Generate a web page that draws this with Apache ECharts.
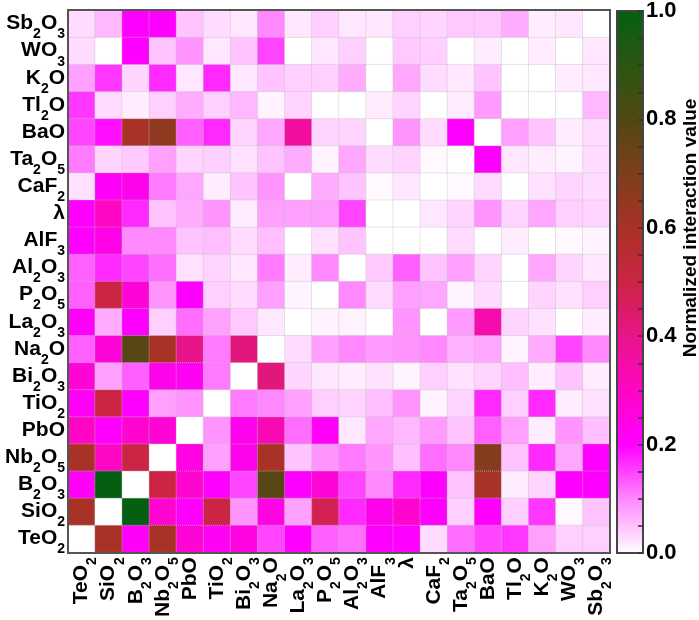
<!DOCTYPE html>
<html>
<head>
<meta charset="utf-8">
<script src="https://cdn.jsdelivr.net/npm/echarts@6/dist/echarts.min.js"></script>
<style>
  html, body { margin: 0; padding: 0; background: #fff; }
  #chart { width: 699px; height: 620px; }
</style>
</head>
<body>
<div id="chart"></div>
<script>
// column / row order (rows listed bottom to top on the y axis)
const oxides = ['TeO2', 'SiO2', 'B2O3', 'Nb2O5', 'PbO', 'TiO2', 'Bi2O3', 'Na2O', 'La2O3', 'P2O5',
  'Al2O3', 'AlF3', 'λ', 'CaF2', 'Ta2O5', 'BaO', 'Tl2O', 'K2O', 'WO3', 'Sb2O3']

// one row per oxide, values across columns in the same order as oxides
const rowTeO2 = [0, 0.6, 0.21, 0.6, 0.27, 0.22, 0.25, 0.15, 0.2, 0.13, 0.12, 0.2, 0.2, 0.03, 0.12, 0.15, 0.16, 0.08, 0.04, 0.04]
const rowSiO2 = [0.6, 0, 1.0, 0.28, 0.2, 0.5, 0.09, 0.25, 0.08, 0.48, 0.17, 0.23, 0.28, 0.2, 0.04, 0.2, 0.04, 0.16, 0.005, 0.05]
const rowB2O3 = [0.21, 1.0, 0, 0.5, 0.28, 0.2, 0.15, 0.78, 0.2, 0.27, 0.15, 0.1, 0.17, 0.2, 0.05, 0.6, 0.015, 0.035, 0.2, 0.2]
const rowNb2O5 = [0.6, 0.3, 0.5, 0, 0.25, 0.08, 0.23, 0.6, 0.05, 0.09, 0.11, 0.09, 0.055, 0.12, 0.1, 0.68, 0.05, 0.17, 0.075, 0.2]
const rowPbO = [0.3, 0.2, 0.28, 0.27, 0, 0.09, 0.23, 0.33, 0.12, 0.21, 0.02, 0.075, 0.06, 0.085, 0.05, 0.13, 0.08, 0.015, 0.09, 0.055]
const rowTiO2 = [0.21, 0.5, 0.2, 0.08, 0.09, 0, 0.11, 0.1, 0.08, 0.04, 0.035, 0.055, 0.09, 0.01, 0.035, 0.17, 0.04, 0.17, 0.015, 0.025]
const rowBi2O3 = [0.27, 0.08, 0.13, 0.23, 0.22, 0.11, 0, 0.42, 0.035, 0.02, 0.015, 0.025, 0.01, 0.04, 0.025, 0.035, 0.055, 0.015, 0.05, 0.015]
const rowNa2O = [0.13, 0.27, 0.78, 0.6, 0.4, 0.11, 0.42, 0, 0.03, 0.08, 0.1, 0.085, 0.09, 0.1, 0.065, 0.075, 0.01, 0.07, 0.15, 0.1]
const rowLa2O3 = [0.21, 0.07, 0.2, 0.04, 0.12, 0.08, 0.045, 0.02, 0, 0.01, 0.01, 0, 0.09, 0, 0.085, 0.34, 0.035, 0.025, 0, 0.015]
const rowP2O5 = [0.13, 0.5, 0.27, 0.09, 0.2, 0.04, 0.03, 0.08, 0.01, 0, 0.1, 0.03, 0.08, 0.075, 0.01, 0.03, 0, 0.035, 0.025, 0.04]
const rowAl2O3 = [0.13, 0.17, 0.15, 0.12, 0.025, 0.035, 0.02, 0.11, 0.015, 0.1, 0, 0.045, 0.13, 0.05, 0.08, 0.035, 0, 0.075, 0.035, 0.02]
const rowAlF3 = [0.2, 0.24, 0.1, 0.1, 0.05, 0.055, 0.03, 0.055, 0, 0.025, 0.05, 0, 0, 0, 0.03, 0, 0.015, 0, 0.005, 0.01]
const rowLambda = [0.2, 0.3, 0.17, 0.05, 0.07, 0.09, 0.015, 0.08, 0.08, 0.08, 0.15, 0, 0, 0.02, 0.035, 0.09, 0.035, 0.075, 0.04, 0.035]
const rowCaF2 = [0.025, 0.21, 0.23, 0.11, 0.075, 0.015, 0.05, 0.09, 0, 0.07, 0.05, 0.005, 0.02, 0, 0.005, 0.03, 0, 0.025, 0.035, 0.03]
const rowTa2O5 = [0.11, 0.035, 0.045, 0.08, 0.035, 0.04, 0.025, 0.05, 0.07, 0.01, 0.075, 0.03, 0.035, 0.005, 0, 0.2, 0.02, 0.015, 0.01, 0.03]
const rowBaO = [0.15, 0.19, 0.6, 0.66, 0.13, 0.17, 0.035, 0.075, 0.36, 0.035, 0.035, 0, 0.09, 0.03, 0.2, 0, 0.08, 0.05, 0.015, 0.03]
const rowTl2O = [0.16, 0.03, 0.015, 0.04, 0.07, 0.04, 0.06, 0.01, 0.035, 0, 0, 0.015, 0.035, 0, 0.015, 0.085, 0, 0, 0, 0.06]
const rowK2O = [0.08, 0.16, 0.035, 0.17, 0.02, 0.17, 0.02, 0.05, 0.04, 0.04, 0.07, 0, 0.075, 0.03, 0.02, 0.05, 0, 0, 0.015, 0.02]
const rowWO3 = [0.03, 0, 0.2, 0.05, 0.09, 0.02, 0.05, 0.15, 0, 0.02, 0.04, 0, 0.045, 0.04, 0, 0.015, 0, 0.015, 0, 0.02]
const rowSb2O3 = [0.03, 0.06, 0.2, 0.2, 0.05, 0.03, 0.02, 0.1, 0.02, 0.04, 0.02, 0.02, 0.04, 0.035, 0.045, 0.045, 0.07, 0.015, 0.02, 0]

const rows = [rowTeO2, rowSiO2, rowB2O3, rowNb2O5, rowPbO, rowTiO2, rowBi2O3, rowNa2O, rowLa2O3, rowP2O5,
  rowAl2O3, rowAlF3, rowLambda, rowCaF2, rowTa2O5, rowBaO, rowTl2O, rowK2O, rowWO3, rowSb2O3]

// white -> magenta -> crimson -> brown -> green, evenly spaced over 0..1
const palette = ['#ffffff', '#ff88ff', '#ff00ff', '#ff06c4', '#e8148a', '#cc2444',
  '#a83226', '#7c3e1c', '#504814', '#2a5612', '#046010']

const heat = []
rows.forEach(function (row, y) {
  row.forEach(function (v, x) { heat.push([x, y, v]) })
})

const FONT = '"Liberation Sans", Arial, sans-serif'

// TeO2 -> {b|TeO}{s|2}
function chem (s) {
  return s.replace(/([^0-9]+)|([0-9]+)/g, function (m, a, b) {
    return a ? '{b|' + a + '}' : '{s|' + b + '}'
  })
}
const richLabel = {
  b: { fontFamily: FONT, fontWeight: 'bold', fontSize: 21, color: '#000', lineHeight: 36, verticalAlign: 'middle' },
  s: { fontFamily: FONT, fontWeight: 'bold', fontSize: 14, color: '#000', lineHeight: 12, padding: [22, 0, 0, 0], verticalAlign: 'top' }
}

const G = { left: 68, top: 10, width: 542, height: 543 }
const CB = { left: 617, top: 10, width: 26, height: 543 }

const barGradient = new echarts.graphic.LinearGradient(0, 1, 0, 0, palette.map(function (c, i) {
  return { offset: i / (palette.length - 1), color: c }
}))

const chart = echarts.init(document.getElementById('chart'))
chart.setOption({
  animation: false,
  grid: [
    { left: G.left, top: G.top, width: G.width, height: G.height },
    {
      left: CB.left, top: CB.top, width: CB.width, height: CB.height,
      show: true, backgroundColor: barGradient, borderColor: '#444', borderWidth: 2
    }
  ],
  xAxis: [
    {
      type: 'category', gridIndex: 0, data: oxides,
      axisLine: { show: false }, axisTick: { show: false },
      splitLine: { show: false },
      axisLabel: { interval: 0, rotate: 90, margin: 5, formatter: chem, rich: richLabel }
    },
    { type: 'value', gridIndex: 1, show: false, min: 0, max: 1 }
  ],
  yAxis: [
    {
      type: 'category', gridIndex: 0, data: oxides,
      axisLine: { show: false }, axisTick: { show: false },
      splitLine: { show: false },
      axisLabel: { interval: 0, margin: 3, formatter: chem, rich: richLabel }
    },
    {
      // tick marks only, moved onto the right edge of the colour bar, pointing inward
      type: 'value', gridIndex: 1, position: 'left', offset: -CB.width, min: 0, max: 1, interval: 0.2,
      axisLine: { show: false },
      axisTick: { show: true, length: 5, lineStyle: { color: '#333', width: 1.5 } },
      minorTick: { show: true, splitNumber: 4, length: 5, lineStyle: { color: '#333', width: 1.5 } },
      splitLine: { show: false },
      axisLabel: { show: false }
    },
    {
      // labels only
      type: 'value', gridIndex: 1, position: 'right', min: 0, max: 1, interval: 0.2,
      axisLine: { show: false }, axisTick: { show: false }, splitLine: { show: false },
      axisLabel: {
        margin: 3, fontFamily: FONT, fontWeight: 'bold', fontSize: 22, color: '#000',
        formatter: function (v) { return v.toFixed(1) }
      }
    }
  ],
  visualMap: {
    show: false, min: 0, max: 1, seriesIndex: 0,
    inRange: { color: palette }
  },
  graphic: [
    {
      type: 'rect', z: 100,
      shape: { x: G.left, y: G.top, width: G.width, height: G.height },
      style: { fill: 'none', stroke: '#555', lineWidth: 2 }
    },
    {
      type: 'text', z: 100, x: 691, y: 228, rotation: Math.PI / 2,
      style: {
        text: 'Normalized interaction value', fill: '#000',
        font: 'bold 19px ' + FONT, textAlign: 'center', textVerticalAlign: 'middle'
      }
    }
  ],
  series: [{
    type: 'heatmap',
    xAxisIndex: 0, yAxisIndex: 0,
    data: heat,
    itemStyle: { borderColor: 'rgba(190,190,190,0.7)', borderWidth: 1, borderType: 'dotted' },
    emphasis: { disabled: true }
  }]
})
</script>
</body>
</html>
